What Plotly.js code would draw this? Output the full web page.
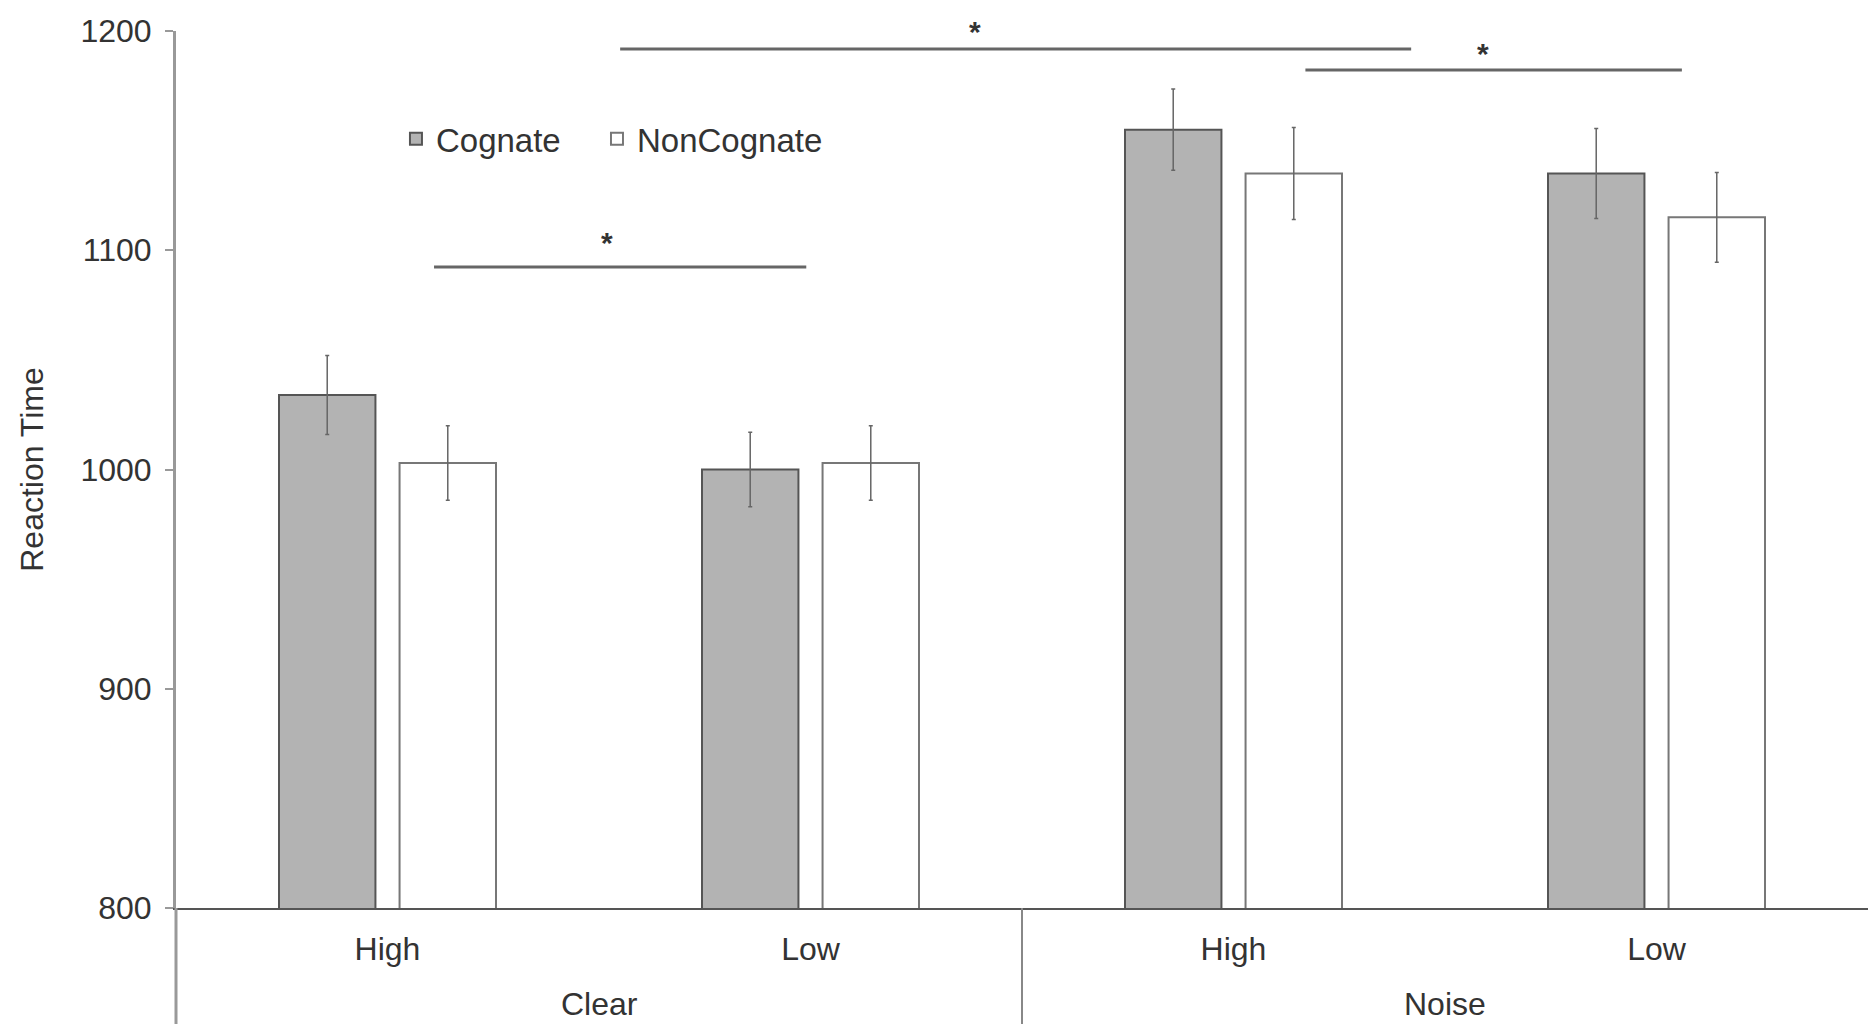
<!DOCTYPE html>
<html>
<head>
<meta charset="utf-8">
<script src="https://cdn.plot.ly/plotly-3.0.1.min.js"></script>
<style>html,body{margin:0;padding:0;background:#fff;}#chart{width:1868px;height:1024px;}</style>
</head>
<body>
<div id="chart"></div>
<script>
// ---- data ----
const conditions = ["Clear", "Clear", "Noise", "Noise"];
const frequency = ["High", "Low", "High", "Low"];
const cognateRT = [1034, 1000, 1155, 1135];
const cognateErr = [18, 17, 18.5, 20.5];
const nonCognateRT = [1003, 1003, 1135, 1115];
const nonCognateErr = [17, 17, 21, 20.5];
// significance brackets: [x start, x end] in category units, line level, star position
const sigStart = [0.11, 0.55, 2.17];
const sigEnd = [0.99, 2.42, 3.06];
const sigLevel = [1092.4, 1191.8, 1182.2];
const sigStarX = [0.52, 1.39, 2.59];
const sigStarY = [1107, 1203.2, 1193.6];
const sigLabel = ["*", "*", "*"];

const xRange = [-0.5, 3.5];
const yRange = [800, 1200];
const toPaperX = v => (v - xRange[0]) / (xRange[1] - xRange[0]);
const toPaperY = v => (v - yRange[0]) / (yRange[1] - yRange[0]);

const FONT = "Liberation Sans, Arial, Helvetica, sans-serif";
const TXT = "#333333";
const FS = 32;

// one category per condition x frequency cell
const cellKeys = conditions.map((c, i) => c + " " + frequency[i]);

const traces = [
  {
    type: "bar", name: "Cognate", legend: "legend",
    x: cellKeys, y: cognateRT,
    marker: {color: "#b3b3b3", line: {color: "#555555", width: 2}},
    error_y: {type: "data", array: cognateErr, visible: true, color: "#666666", thickness: 1.5, width: 2}
  },
  {
    type: "bar", name: "NonCognate", legend: "legend2",
    x: cellKeys, y: nonCognateRT,
    marker: {color: "#ffffff", line: {color: "#777777", width: 2}},
    error_y: {type: "data", array: nonCognateErr, visible: true, color: "#666666", thickness: 1.5, width: 2}
  }
];

// significance bracket lines
const shapes = sigStart.map((s, i) => ({
  type: "line", xref: "paper", yref: "y",
  x0: toPaperX(s), x1: toPaperX(sigEnd[i]), y0: sigLevel[i], y1: sigLevel[i],
  line: {color: "#666666", width: 3}
}));

// group labels and dividers derived from the condition array
const groups = [];
conditions.forEach((c, i) => {
  const g = groups.find(o => o.name === c);
  if (g) g.last = i; else groups.push({name: c, first: i, last: i});
});
const bottomPaper = -116 / 877;
groups.forEach((g, k) => {
  shapes.push({
    type: "line", xref: "paper", yref: "paper",
    x0: toPaperX(g.first - 0.5), x1: toPaperX(g.first - 0.5), y0: 0, y1: bottomPaper,
    line: {color: k === 0 ? "#999999" : "#888888", width: k === 0 ? 3 : 2}
  });
});

const annotations = sigStarX.map((sx, i) => ({
  xref: "paper", yref: "paper", x: toPaperX(sx), y: toPaperY(sigStarY[i]),
  text: "<b>" + sigLabel[i] + "</b>", showarrow: false, xanchor: "center", yanchor: "middle", yshift: -8,
  font: {family: FONT, size: 30, color: "#333333"}
}));
groups.forEach(g => {
  annotations.push({
    xref: "paper", yref: "paper", x: toPaperX((g.first + g.last) / 2), y: -96 / 877,
    text: g.name, showarrow: false, xanchor: "center", yanchor: "middle",
    font: {family: FONT, size: FS, color: TXT}
  });
});

const legendBase = {
  orientation: "h", xanchor: "left", y: 0.877, yanchor: "middle",
  font: {family: FONT, size: 33, color: TXT}, bgcolor: "rgba(0,0,0,0)"
};

const layout = {
  width: 1868, height: 1024,
  margin: {l: 176, r: 0, t: 31, b: 116, pad: 0},
  paper_bgcolor: "#ffffff", plot_bgcolor: "#ffffff",
  font: {family: FONT, size: FS, color: TXT},
  barmode: "group", bargap: 0.43, bargroupgap: 0.2,
  showlegend: true,
  legend: Object.assign({}, legendBase, {x: 0.130}),
  legend2: Object.assign({}, legendBase, {x: 0.2488}),
  xaxis: {
    type: "category", categoryorder: "array", categoryarray: cellKeys,
    tickmode: "array", tickvals: cellKeys, ticktext: frequency,
    range: xRange, showgrid: false, zeroline: false,
    showline: true, linecolor: "#555555", linewidth: 2, ticks: "",
    ticklabelstandoff: 12,
    tickfont: {family: FONT, size: FS, color: TXT}
  },
  yaxis: {
    range: yRange, tickvals: [800, 900, 1000, 1100, 1200], showgrid: false, zeroline: false,
    showline: true, linecolor: "#999999", linewidth: 3,
    ticks: "outside", ticklen: 8, tickwidth: 2, tickcolor: "#999999",
    ticklabelstandoff: 7,
    tickfont: {family: FONT, size: FS, color: TXT},
    title: {text: "Reaction Time", font: {family: FONT, size: FS, color: TXT}, standoff: 28}
  },
  shapes: shapes,
  annotations: annotations
};

Plotly.newPlot("chart", traces, layout, {displayModeBar: false, staticPlot: true});
</script>
</body>
</html>
